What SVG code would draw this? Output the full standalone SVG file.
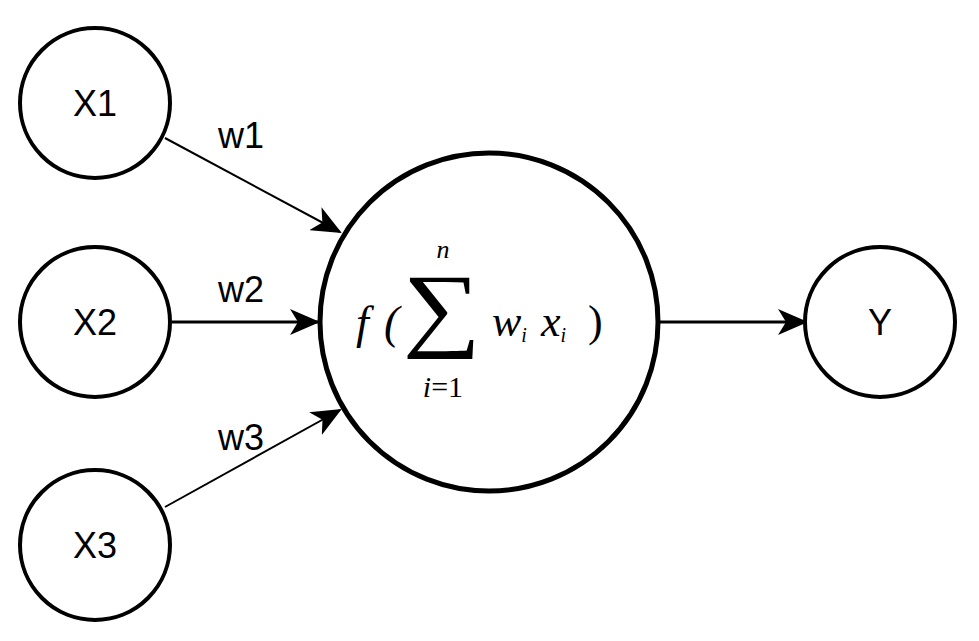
<svg xmlns="http://www.w3.org/2000/svg" width="979" height="641" viewBox="0 0 979 641">
<style>
.n{fill:#fff;stroke:#000;stroke-width:4}
.t{font-family:"Liberation Sans",Arial,sans-serif;font-size:36px;fill:#000}
.m{font-family:"Liberation Serif","DejaVu Serif",serif;font-style:italic;fill:#000}
.c{stroke:#000;stroke-width:2;fill:none}
</style>
<defs>
<marker id="b" markerWidth="30" markerHeight="26" refX="28" refY="13" orient="auto" markerUnits="userSpaceOnUse" viewBox="0 0 30 26"><path d="M0,0 L30,13 L0,26 L8,13 Z" fill="#000"/></marker></defs>
<g id="connectors">
<line class="c" x1="165" y1="138" x2="340" y2="232" marker-end="url(#b)"/>
<line class="c" x1="172" y1="322" x2="318" y2="322" marker-end="url(#b)" style="stroke-width:3"/>
<line class="c" x1="165" y1="507" x2="340" y2="410" marker-end="url(#b)"/>
<line class="c" x1="659" y1="322" x2="806" y2="322" marker-end="url(#b)" style="stroke-width:3"/>
<text class="t" x="218" y="148">w1</text>
<text class="t" x="218" y="302">w2</text>
<text class="t" x="218" y="450">w3</text>
</g>
<g id="x1"><circle class="n" cx="95" cy="103" r="75"/><text class="t" x="95" y="116" text-anchor="middle">X1</text></g>
<g id="x2"><circle class="n" cx="95" cy="322" r="75"/><text class="t" x="95" y="335" text-anchor="middle">X2</text></g>
<g id="x3"><circle class="n" cx="95" cy="545" r="75"/><text class="t" x="95" y="558" text-anchor="middle">X3</text></g>
<g id="neuron"><circle class="n" cx="489" cy="322" r="169" style="stroke-width:5"/>
<text class="m" x="356" y="338" font-size="46">f</text>
<text class="m" x="384" y="338" font-size="46" font-style="normal">(</text>
<text class="m" x="442" y="343" font-size="110" font-style="normal" text-anchor="middle" transform="translate(442 316) scale(1 0.85) translate(-442 -316)">∑</text>
<text class="m" x="443" y="258" font-size="26" text-anchor="middle">n</text>
<text class="m" x="443" y="397" font-size="30" text-anchor="middle">i<tspan font-style="normal">=1</tspan></text>
<text class="m" x="492" y="336" font-size="44">w<tspan font-size="20" dy="6">i</tspan><tspan dy="-6" dx="14">x</tspan><tspan font-size="20" dy="6">i</tspan><tspan dy="-6" dx="22" font-style="normal">)</tspan></text>
</g>
<g id="y"><circle class="n" cx="880" cy="322" r="75"/><text class="t" x="880" y="335" text-anchor="middle">Y</text></g>
</svg>
